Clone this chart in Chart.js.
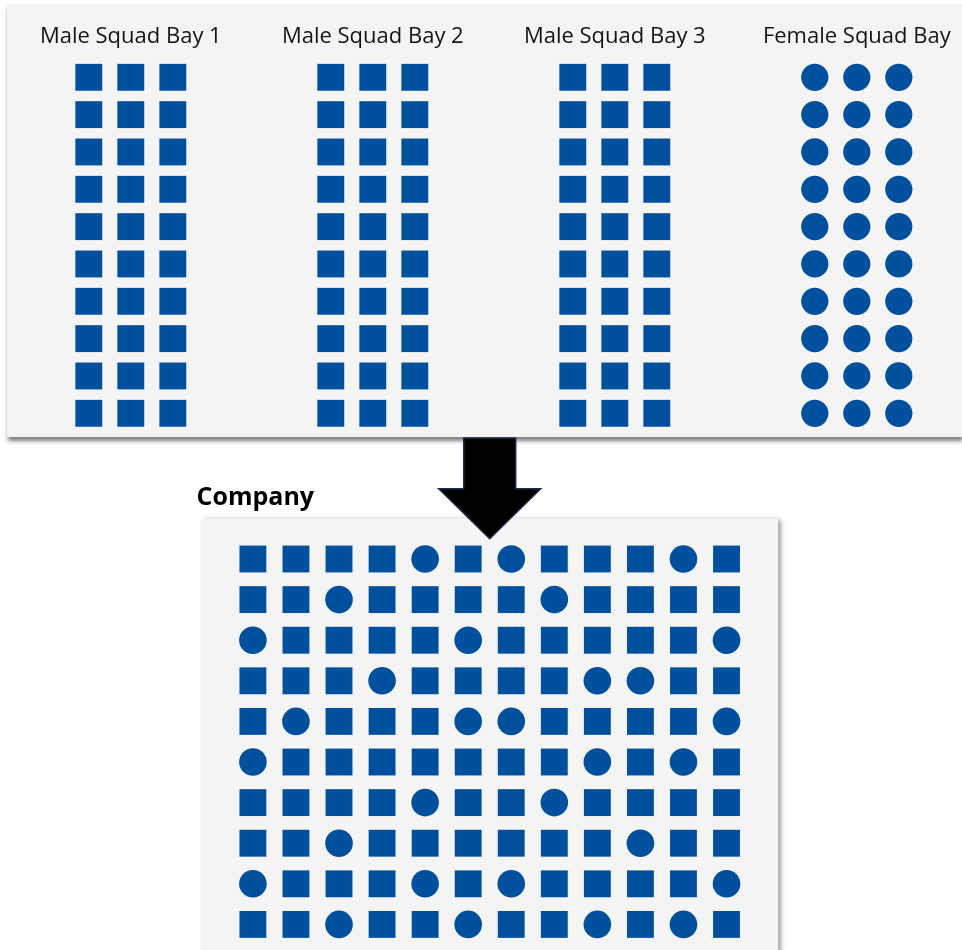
<!DOCTYPE html>
<html>
<head>
<meta charset="utf-8">
<script src="https://cdn.jsdelivr.net/npm/chart.js@4.4.0/dist/chart.umd.min.js"></script>
<style>
    body { margin: 0; background: #ffffff; }
    #page { position: relative; width: 962px; height: 950px; overflow: hidden; }
    #baysChart {
        position: absolute; left: 7px; top: 4px;
        background: #f4f4f4;
        box-shadow: 1px 4px 4px rgba(0, 0, 0, 0.5);
    }
    #companyChart { position: absolute; left: 190px; top: 436px; }
</style>
</head>
<body>
<div id="page">
    <canvas id="baysChart" width="955" height="433"></canvas>
    <canvas id="companyChart" width="600" height="514"></canvas>
</div>
<script>
// Squad bays (top panel)
const bays = ['Male Squad Bay 1', 'Male Squad Bay 2', 'Male Squad Bay 3', 'Female Squad Bay'];
const bayShapes = ['rect', 'rect', 'rect', 'circle'];
const bayColumns = 3;
const bayRows = 10;

// Company formation (bottom panel), S = male (square), C = female (circle)
const companyRows = [
    'SSSSCSCSSSCS',
    'SSCSSSSCSSSS',
    'CSSSSCSSSSSC',
    'SSSCSSSSCCSS',
    'SCSSSCCSSSSC',
    'CSSSSSSSCSCS',
    'SSSSCSSCSSSS',
    'SSCSSSSSSCSS',
    'CSSSCSCSSSSC',
    'SSCSSCSSCSCS'
];

const BLUE = '#00509e';
const COL_STEP = 0.1736; // spacing of seat columns inside a bay, in bay units

Chart.defaults.font.family = "'Open Sans', sans-serif";
Chart.defaults.color = '#141414';

// Build bay datasets
function buildBayDatasets() {
    return bays.map((name, i) => {
        const points = [];
        for (let c = 0; c < bayColumns; c++) {
            for (let r = 0; r < bayRows; r++) {
                points.push({ x: i + (c - 1) * COL_STEP, y: r });
            }
        }
        const isRect = bayShapes[i] === 'rect';
        return {
            label: name,
            data: points,
            clip: false,
            pointStyle: bayShapes[i],
            pointRadius: isRect ? 19 : 13.6,
            pointBackgroundColor: BLUE,
            pointBorderWidth: 0
        };
    });
}

// Build company datasets
function buildCompanyDatasets() {
    const male = [];
    const female = [];
    companyRows.forEach((row, r) => {
        row.split('').forEach((seat, c) => {
            (seat === 'C' ? female : male).push({ x: c, y: r });
        });
    });
    return [
        { label: 'Male', data: male, clip: false, pointStyle: 'rect', pointRadius: 19, pointBackgroundColor: BLUE, pointBorderWidth: 0 },
        { label: 'Female', data: female, clip: false, pointStyle: 'circle', pointRadius: 13.8, pointBackgroundColor: BLUE, pointBorderWidth: 0 }
    ];
}

new Chart(document.getElementById('baysChart'), {
    type: 'scatter',
    data: { datasets: buildBayDatasets() },
    options: {
        responsive: false,
        animation: false,
        layout: { autoPadding: false, padding: { left: 27, right: 8.4, top: 14.5, bottom: 1.3 } },
        plugins: { legend: { display: false }, tooltip: { enabled: false } },
        scales: {
            x: {
                type: 'linear',
                position: 'top',
                min: -0.4,
                max: 3.4,
                grid: { display: false, drawTicks: false },
                border: { display: false },
                afterBuildTicks: scale => { scale.ticks = bays.map((b, i) => ({ value: i })); },
                ticks: {
                    autoSkip: false,
                    maxRotation: 0,
                    padding: 5,
                    font: { size: 22 },
                    callback: value => bays[value]
                }
            },
            y: { display: false, reverse: true, min: -0.6, max: 9.6 }
        }
    }
});

// Panel background and arrow for the company chart
const companyDecor = {
    id: 'companyDecor',
    beforeDatasetsDraw(chart) {
        const { ctx, scales: { x, y } } = chart;
        const left = x.getPixelForValue(-1.2);
        const right = x.getPixelForValue(12.2);
        const top = y.getPixelForValue(-1.0);
        ctx.save();
        ctx.shadowColor = 'rgba(0, 0, 0, 0.45)';
        ctx.shadowBlur = 5;
        ctx.shadowOffsetX = 3;
        ctx.shadowOffsetY = 2;
        ctx.fillStyle = '#f4f4f4';
        ctx.fillRect(left, top, right - left, chart.height - top + 10);
        ctx.restore();
    },
    afterDatasetsDraw(chart) {
        const { ctx, scales: { x, y } } = chart;
        const tx = x.getPixelForValue(5.5);
        const ty = y.getPixelForValue(-0.5);
        const headTop = ty - 50;
        const top = 2;
        ctx.save();
        ctx.beginPath();
        ctx.moveTo(tx - 26, top);
        ctx.lineTo(tx + 26, top);
        ctx.lineTo(tx + 26, headTop);
        ctx.lineTo(tx + 51, headTop);
        ctx.lineTo(tx, ty);
        ctx.lineTo(tx - 51, headTop);
        ctx.lineTo(tx - 26, headTop);
        ctx.closePath();
        ctx.fillStyle = '#000000';
        ctx.fill();
        ctx.strokeStyle = '#1f2d4a';
        ctx.lineWidth = 1.5;
        ctx.stroke();
        ctx.restore();
    }
};

new Chart(document.getElementById('companyChart'), {
    type: 'scatter',
    data: { datasets: buildCompanyDatasets() },
    options: {
        responsive: false,
        animation: false,
        layout: { autoPadding: false, padding: { left: 6.5, right: 11.8, top: 0, bottom: 0 } },
        plugins: {
            legend: { display: false },
            tooltip: { enabled: false },
            title: {
                display: true,
                text: 'Company',
                align: 'start',
                color: '#000000',
                font: { size: 25, weight: 'bold' },
                padding: { top: 47.2, bottom: 5.2 }
            }
        },
        scales: {
            x: { type: 'linear', display: false, min: -1.31, max: 12.2 },
            y: { display: false, reverse: true, min: -1.0, max: 9.63 }
        }
    },
    plugins: [companyDecor]
});
</script>
</body>
</html>
